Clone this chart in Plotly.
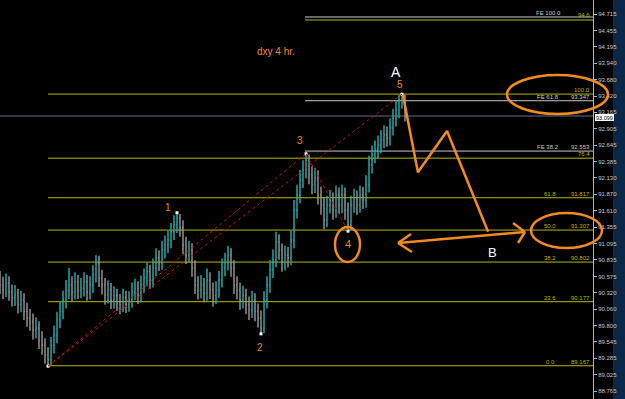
import plotly.graph_objects as go

# ---------------- data ----------------
bar_open = [90.50,90.44,90.36,90.47,90.33,90.24,90.28,90.13,90.20,90.02,89.92,89.86,89.73,89.76,89.57,89.49,89.34,89.26,89.49,89.65,
            89.89,90.02,90.20,90.36,90.44,90.33,90.49,90.36,90.39,90.49,90.33,90.44,90.60,90.80,90.55,90.44,90.28,90.36,90.20,90.27,
            90.17,90.13,90.24,90.14,90.20,90.33,90.39,90.28,90.44,90.55,90.65,90.52,90.71,90.87,90.80,90.99,91.07,91.15,91.28,91.39,
            91.50,91.34,91.07,90.91,90.99,90.71,90.44,90.36,90.44,90.31,90.52,90.36,90.27,90.36,90.52,90.71,90.80,90.91,90.71,90.44,
            90.36,90.20,90.27,90.13,90.05,90.20,90.02,89.92,89.76,90.20,90.44,90.68,90.84,91.12,90.99,90.80,90.91,90.87,91.15,91.62,
            91.86,92.10,92.25,92.41,92.18,92.02,92.13,91.86,91.70,91.47,91.70,91.78,91.62,91.86,91.70,91.86,91.62,91.39,91.70,91.81,
            91.70,91.86,91.78,92.02,92.33,92.49,92.57,92.65,92.73,92.81,92.76,92.92,93.07,93.20,93.36,93.42]
bar_high = [90.66,90.57,90.62,90.58,90.45,90.44,90.38,90.35,90.31,90.16,90.06,89.99,89.93,89.87,89.71,89.60,89.46,89.62,89.80,90.02,
            90.18,90.35,90.52,90.71,90.58,90.64,90.60,90.55,90.64,90.60,90.58,90.75,90.91,90.90,90.68,90.55,90.51,90.47,90.42,90.38,
            90.30,90.38,90.35,90.34,90.48,90.54,90.50,90.59,90.70,90.80,90.76,90.86,91.02,90.99,91.14,91.22,91.30,91.42,91.54,91.58,
            91.56,91.46,91.20,91.14,91.10,90.83,90.58,90.60,90.55,90.70,90.64,90.48,90.50,90.66,90.86,90.95,91.06,91.02,90.83,90.58,
            90.48,90.43,90.38,90.26,90.35,90.31,90.15,90.04,90.34,90.58,90.83,91.00,91.28,91.24,91.10,91.06,91.04,91.30,91.78,92.02,
            92.26,92.41,92.51,92.50,92.31,92.29,92.25,91.99,91.82,91.85,91.94,91.90,92.01,91.98,92.02,91.98,91.74,91.85,91.96,91.93,
            92.01,91.99,92.17,92.48,92.64,92.72,92.80,92.88,92.96,92.94,93.07,93.22,93.35,93.44,93.45,93.44]
bar_low = [90.30,90.22,90.25,90.19,90.10,90.11,89.99,90.01,89.89,89.78,89.72,89.58,89.60,89.43,89.34,89.20,89.16,89.18,89.36,89.52,
           89.76,89.90,90.07,90.22,90.18,90.21,90.22,90.23,90.26,90.19,90.21,90.32,90.48,90.41,90.29,90.13,90.15,90.06,90.07,90.03,
           89.98,90.01,90.00,90.02,90.08,90.20,90.14,90.16,90.31,90.42,90.38,90.40,90.58,90.66,90.68,90.86,90.94,91.02,91.15,91.26,
           91.20,90.93,90.77,90.79,90.57,90.30,90.21,90.23,90.17,90.19,90.22,90.10,90.14,90.24,90.40,90.58,90.67,90.57,90.30,90.21,
           90.05,90.07,89.98,89.89,89.92,89.87,89.77,89.67,89.68,90.07,90.32,90.55,90.72,90.84,90.65,90.67,90.72,90.75,91.02,91.49,
           91.73,91.97,92.12,92.03,91.87,91.89,91.71,91.55,91.32,91.35,91.57,91.47,91.50,91.56,91.57,91.47,91.29,91.30,91.58,91.55,
           91.58,91.64,91.66,91.90,92.20,92.36,92.44,92.52,92.60,92.62,92.64,92.80,92.94,93.07,93.22,93.02]
bar_close = [90.44,90.36,90.47,90.33,90.24,90.28,90.13,90.20,90.02,89.92,89.86,89.73,89.76,89.57,89.49,89.34,89.26,89.49,89.65,89.89,
             90.02,90.20,90.36,90.44,90.33,90.49,90.36,90.39,90.49,90.33,90.44,90.60,90.80,90.55,90.44,90.28,90.36,90.20,90.27,90.17,
             90.13,90.24,90.14,90.20,90.33,90.39,90.28,90.44,90.55,90.65,90.52,90.71,90.87,90.80,90.99,91.07,91.15,91.28,91.39,91.50,
             91.34,91.07,90.91,90.99,90.71,90.44,90.36,90.44,90.31,90.52,90.36,90.27,90.36,90.52,90.71,90.80,90.91,90.71,90.44,90.36,
             90.20,90.27,90.13,90.05,90.20,90.02,89.92,89.76,90.20,90.44,90.68,90.84,91.12,90.99,90.80,90.91,90.87,91.15,91.62,91.86,
             92.10,92.25,92.41,92.18,92.02,92.13,91.86,91.70,91.47,91.70,91.78,91.62,91.86,91.70,91.86,91.62,91.39,91.70,91.81,91.70,
             91.86,91.78,92.02,92.33,92.49,92.57,92.65,92.73,92.81,92.76,92.92,93.07,93.20,93.36,93.42,93.17]
bar_index = list(range(len(bar_close)))

# Fibonacci retracement (yellow) levels: label, price
retr_labels = ["0.0", "23.6", "38.2", "50.0", "61.8", "76.4", "100.0"]
retr_prices = [89.167, 90.177, 90.802, 91.307, 91.817, 92.441, 93.452]
retr_values = ["89.167", "90.177", "90.802", "91.307", "91.817", "", ""]
# Fibonacci expansion (white) levels
fe_labels = ["FE 38.2", "FE 61.8", "FE 100.0"]
fe_prices = [92.553, 93.347, 94.668]
fe_values = ["92.553", "93.347", ""]
top_retr_price = 94.62
top_retr_value = "94.6"

# wave points (bar index, price)
wave_idx = [16, 59, 87, 102, 116, 134]
wave_price = [89.16, 91.58, 89.67, 92.51, 91.29, 93.45]

# projected path (A -> down -> up -> B)
proj_idx = [134.3, 139.3, 149.0, 162.7]
proj_price = [93.44, 92.22, 92.87, 91.28]

last_price = 93.106
last_price_text = "93.099"

y_ticks = [94.715, 94.455, 94.195, 93.940, 93.680, 93.420, 93.165, 92.905, 92.645, 92.385, 92.130, 91.870,
           91.610, 91.355, 91.095, 90.835, 90.575, 90.320, 90.060, 89.800, 89.545, 89.285, 89.025, 88.765]

# ---------------- figure ----------------
W, H = 625, 399
PW = 593  # plot width in px
XMAX = PW / 3.0
YTOP, YBOT = 94.936, 88.642

def px2x(px):
    return px / 3.0

def ppx(px):
    return px / PW

def ppy(py):
    return 1 - py / H

YEL = "#b8b800"
WHT = "#c8c8c8"
ORG = "#f28a1e"
ORG2 = "#e8862a"
RED = "#c0141c"

fig = go.Figure()
fig.add_trace(go.Ohlc(
    x=bar_index, open=bar_open, high=bar_high, low=bar_low, close=bar_close,
    increasing=dict(line=dict(color="#1fb3b3", width=1.4)),
    decreasing=dict(line=dict(color="#9a9a9a", width=1.4)),
    tickwidth=0.3, hoverinfo="skip", showlegend=False,
))

shapes = []
annotations = []
font_small = dict(family="Liberation Sans, Arial", size=6)

# current price line
shapes.append(dict(type="line", xref="paper", yref="y", x0=0, x1=1, y0=last_price, y1=last_price,
                   line=dict(color="#5c6c86", width=1), layer="below"))

# retracement lines
for lab, p, v in zip(retr_labels, retr_prices, retr_values):
    shapes.append(dict(type="line", xref="x", yref="y", x0=px2x(48), x1=XMAX, y0=p, y1=p,
                       line=dict(color=YEL, width=1), layer="below"))
    if v:
        annotations.append(dict(x=ppx(550), y=p, xref="paper", yref="y", text=lab, showarrow=False,
                                xanchor="center", yanchor="bottom", font=dict(font_small, color=YEL), yshift=-1))
        annotations.append(dict(x=ppx(592), y=p, xref="paper", yref="y", text=v, showarrow=False,
                                xanchor="right", yanchor="bottom", font=dict(font_small, color=YEL), yshift=-1))
    else:
        annotations.append(dict(x=ppx(592), y=p, xref="paper", yref="y", text=lab, showarrow=False,
                                xanchor="right", yanchor="bottom", font=dict(font_small, color=YEL), yshift=-1))

# top yellow line
shapes.append(dict(type="line", xref="x", yref="y", x0=px2x(305), x1=XMAX, y0=top_retr_price, y1=top_retr_price,
                   line=dict(color=YEL, width=1), layer="below"))
annotations.append(dict(x=ppx(592), y=top_retr_price, xref="paper", yref="y", text=top_retr_value, showarrow=False,
                        xanchor="right", yanchor="bottom", font=dict(font_small, color=YEL), yshift=0))

# FE lines
for lab, p, v in zip(fe_labels, fe_prices, fe_values):
    shapes.append(dict(type="line", xref="x", yref="y", x0=px2x(305), x1=XMAX, y0=p, y1=p,
                       line=dict(color=WHT, width=1), layer="below"))
    annotations.append(dict(x=ppx(548), y=p, xref="paper", yref="y", text=lab, showarrow=False,
                            xanchor="center", yanchor="bottom", font=dict(font_small, color=WHT), yshift=-1))
    if v:
        annotations.append(dict(x=ppx(592), y=p, xref="paper", yref="y", text=v, showarrow=False,
                                xanchor="right", yanchor="bottom", font=dict(font_small, color=WHT), yshift=-1))

# red dotted trend lines
pairs = [(0, 3), (0, 5), (3, 4)]
for a, b in pairs:
    shapes.append(dict(type="line", xref="x", yref="y", x0=wave_idx[a], y0=wave_price[a],
                       x1=wave_idx[b], y1=wave_price[b], line=dict(color=RED, width=1, dash="dot")))
fig.add_trace(go.Scatter(x=wave_idx, y=wave_price, mode="markers",
                         marker=dict(symbol="square", size=3, color="#ffffff"), hoverinfo="skip", showlegend=False))

# projected orange path
fig.add_trace(go.Scatter(x=proj_idx, y=proj_price, mode="lines", line=dict(color=ORG, width=2.5),
                         hoverinfo="skip", showlegend=False))

# double-headed arrow (paper px)
def pline(x0, y0, x1, y1, w=2.5):
    shapes.append(dict(type="line", xref="paper", yref="paper", x0=ppx(x0), y0=ppy(y0), x1=ppx(x1), y1=ppy(y1),
                       line=dict(color=ORG, width=w)))

pline(398, 243, 525, 232)
pline(398, 243, 411, 234)
pline(398, 243, 412, 252)
pline(525, 232, 513, 223)
pline(525, 232, 518, 243)

# ellipses
def ell(x0, y0, x1, y1):
    shapes.append(dict(type="circle", xref="paper", yref="paper", x0=ppx(x0), x1=ppx(x1), y0=ppy(y1), y1=ppy(y0),
                       line=dict(color=ORG, width=2.5)))

ell(507, 75, 608, 114)
ell(531, 213, 602, 248)
ell(335, 227, 360, 262)

# right side strip and price label
shapes.append(dict(type="rect", xref="paper", yref="paper", x0=ppx(613), x1=ppx(626), y0=0, y1=1,
                   fillcolor="#0b2747", line=dict(width=0), layer="below"))
shapes.append(dict(type="rect", xref="paper", yref="paper", x0=ppx(595), x1=ppx(614),
                   y0=ppy(121), y1=ppy(114), fillcolor="#ffffff", line=dict(width=0)))
annotations.append(dict(x=ppx(604.5), y=ppy(117.5), xref="paper", yref="paper", text=last_price_text, showarrow=False,
                        xanchor="center", yanchor="middle", font=dict(family="Liberation Sans, Arial", size=5.5, color="#000000")))

# text labels
def txt(px, py, t, color, size):
    annotations.append(dict(x=ppx(px), y=ppy(py), xref="paper", yref="paper", text=t, showarrow=False,
                            xanchor="center", yanchor="middle", font=dict(family="Liberation Sans, Arial", size=size, color=color)))

txt(276, 51, "dxy 4 hr.", ORG, 10)
txt(396, 72, "A", "#ffffff", 14)
txt(400, 84, "5", ORG2, 10)
txt(300, 140, "3", ORG2, 10)
txt(168, 207, "1", ORG2, 10)
txt(260, 347, "2", ORG2, 10)
txt(348, 244, "4", ORG2, 11)
txt(492, 252, "B", "#ffffff", 13)

fig.update_layout(
    width=W, height=H, margin=dict(l=0, r=W - PW, t=0, b=0),
    paper_bgcolor="#000000", plot_bgcolor="#000000",
    showlegend=False, shapes=shapes, annotations=annotations,
    xaxis=dict(range=[0, XMAX], visible=False, rangeslider=dict(visible=False), fixedrange=True),
    yaxis=dict(range=[YBOT, YTOP], side="right", tickvals=y_ticks, ticktext=[f"{v:.3f}" for v in y_ticks],
               tickfont=dict(family="Liberation Sans, Arial", size=6, color="#c8c8c8"),
               showgrid=False, zeroline=False, showline=True, linecolor="#b0b0b0", linewidth=1,
               ticks="outside", ticklen=3, tickcolor="#b0b0b0", fixedrange=True),
)

fig.write_html("out.html")
